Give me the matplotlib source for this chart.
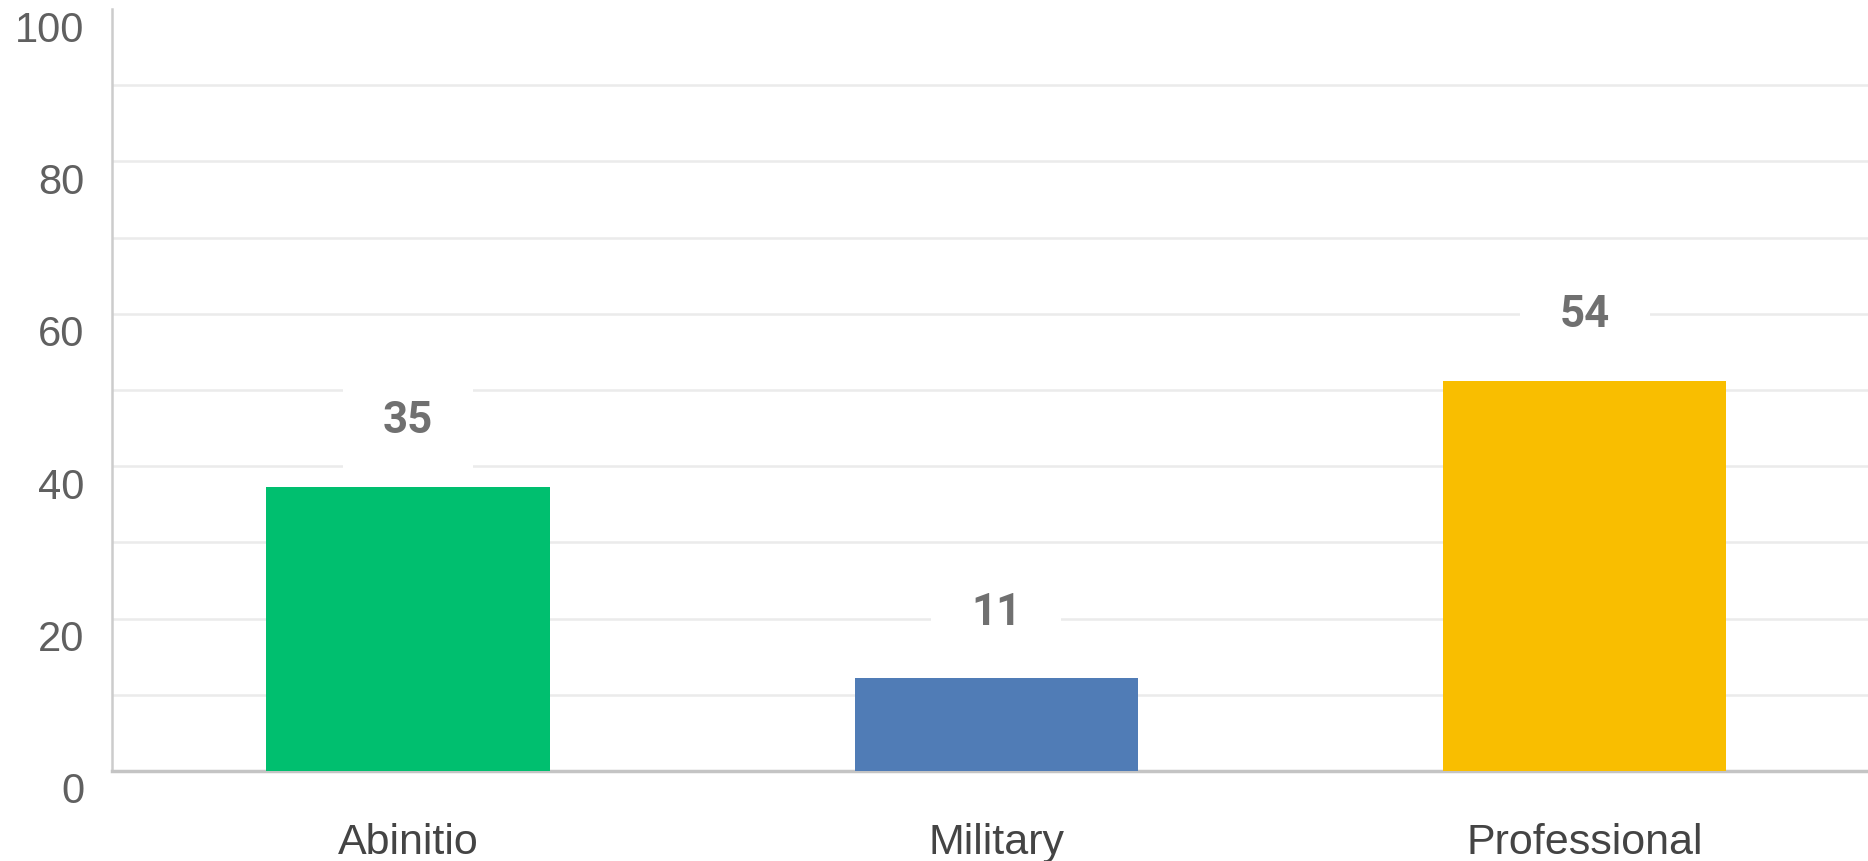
import matplotlib
matplotlib.use("Agg")
import matplotlib.pyplot as plt
import matplotlib.transforms as mtransforms

categories = ["Abinitio", "Military", "Professional"]
bar_heights = [37.3, 12.2, 51.2]
value_labels = [35, 11, 54]
colors = ["#00bf6f", "#507cb6", "#f9be00"]
yticks = [0, 20, 40, 60, 80, 100]

fig = plt.figure(figsize=(18.68, 8.62), dpi=100)
ax = fig.add_axes([112/1868, 90/862, 1 - 112/1868, 762/862])

x = list(range(len(categories)))
label_gap = 9.3
# white background boxes behind the value labels (they cut the grid lines)
ax.bar(x, [label_gap + 3.7] * len(x), bottom=bar_heights, width=0.221,
       color="white", zorder=2, linewidth=0)
ax.bar(x, bar_heights, width=0.481, color=colors, zorder=3, linewidth=0)

for xi, h, lab in zip(x, bar_heights, value_labels):
    ax.text(xi, h + label_gap, str(lab), ha="center", va="center_baseline",
            fontsize=31.5, fontweight="bold", color="#707070",
            family="Roboto", zorder=4)

ax.set_xlim(-0.503, 2.481)
ax.set_ylim(0, 100)

# grid lines every 10, except at the top
for g in range(10, 100, 10):
    ax.axhline(g, color="#ebebeb", linewidth=1.8, zorder=1)

ax.set_yticks(yticks)
ax.set_yticklabels([str(t) for t in yticks], fontsize=30,
                   color="#606060", family="Liberation Sans")
ax.set_xticks(x)
ax.set_xticklabels(categories, fontsize=31, color="#444444",
                   family="Liberation Sans")
ax.tick_params(axis="y", length=0, pad=20)
ax.tick_params(axis="x", length=0, pad=37)

offset = mtransforms.ScaledTranslation(0, -0.16, fig.dpi_scale_trans)
for lab in ax.get_yticklabels():
    lab.set_transform(lab.get_transform() + offset)

for s in ["top", "right"]:
    ax.spines[s].set_visible(False)
ax.spines["left"].set_color("#cccccc")
ax.spines["left"].set_linewidth(1.8)
ax.spines["bottom"].set_color("#c4c4c4")
ax.spines["bottom"].set_linewidth(2.5)

fig.savefig("out.png", dpi=100, facecolor="white")
